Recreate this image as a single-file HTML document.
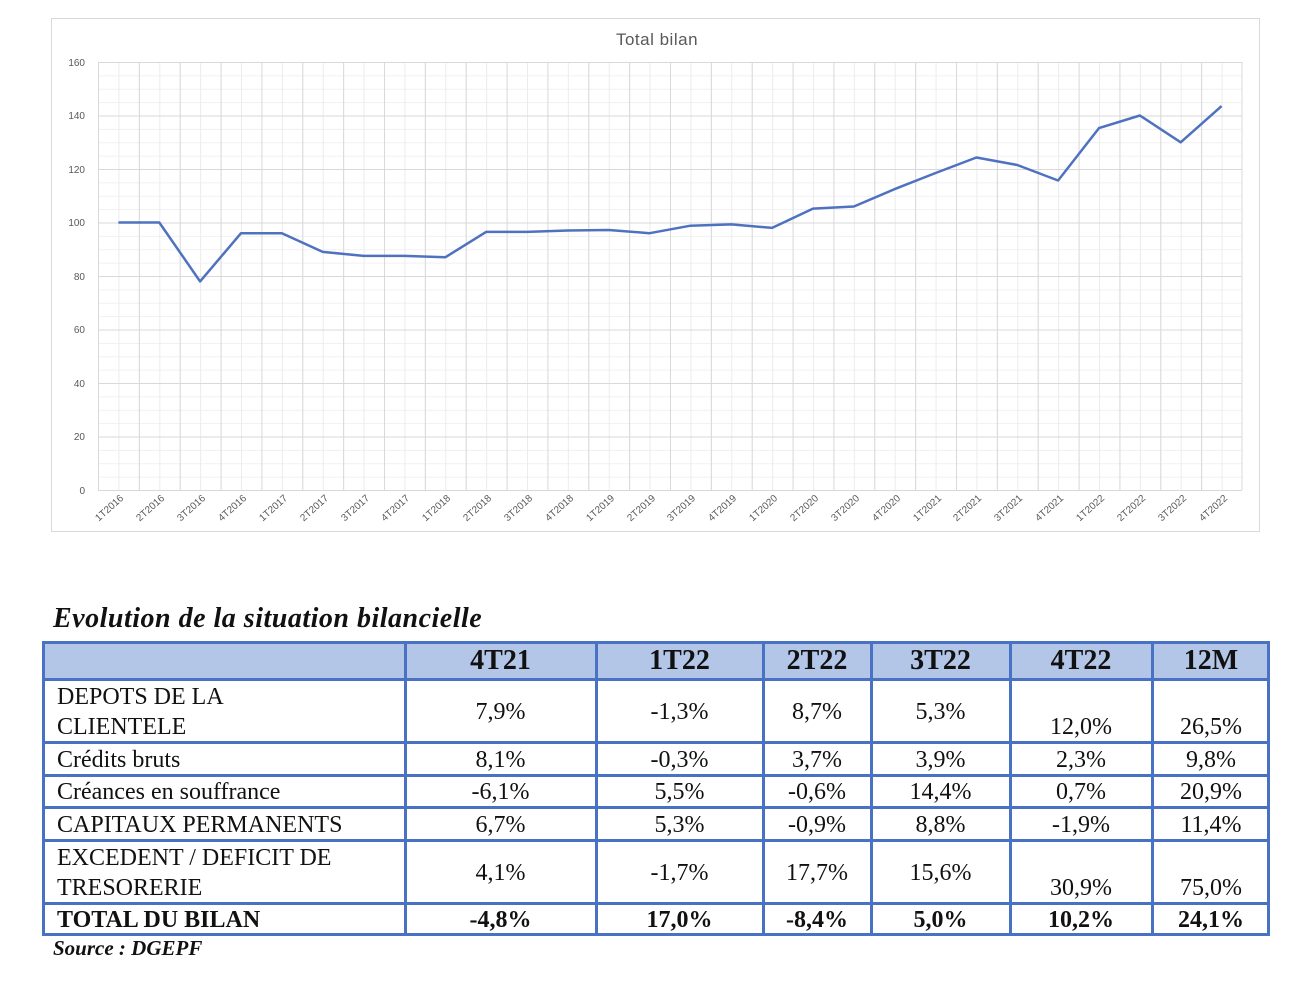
<!DOCTYPE html>
<html><head><meta charset="utf-8"><style>
body{margin:0;width:1302px;height:982px;background:#fff;position:relative;overflow:hidden;font-family:"Liberation Serif",serif}
.c{position:absolute;box-sizing:border-box;font-size:24px;color:#111;display:flex;align-items:center;justify-content:center;line-height:30px}
.l{justify-content:flex-start;padding-left:14px}
.h{font-weight:bold;font-size:28px}
.b{font-weight:bold}
</style></head><body>
<svg width="1302" height="545" style="position:absolute;left:0;top:0" font-family="Liberation Sans, sans-serif">
<defs>
<pattern id="hm" x="98" y="62" width="1144" height="13.375" patternUnits="userSpaceOnUse"><line x1="0" y1="0.5" x2="1144" y2="0.5" stroke="#f0f0f0" stroke-width="1"/></pattern>
<pattern id="vm" x="98" y="62" width="20.4286" height="428" patternUnits="userSpaceOnUse"><line x1="0.5" y1="0" x2="0.5" y2="428" stroke="#ececec" stroke-width="1"/></pattern>
<pattern id="vM" x="98" y="62" width="40.857" height="428" patternUnits="userSpaceOnUse"><line x1="0.5" y1="0" x2="0.5" y2="428" stroke="#d9d9d9" stroke-width="1"/></pattern>
<pattern id="hM" x="98" y="62" width="1144" height="53.5" patternUnits="userSpaceOnUse"><line x1="0" y1="0.5" x2="1144" y2="0.5" stroke="#d9d9d9" stroke-width="1"/></pattern>
</defs>
<rect x="51.5" y="18.5" width="1208" height="513" fill="#fff" stroke="#d9d9d9"/>
<text x="657" y="45" font-size="17" fill="#595959" text-anchor="middle" letter-spacing="0.5">Total bilan</text>
<rect x="98" y="62" width="1144" height="428" fill="url(#hm)"/>
<rect x="98" y="62" width="1144" height="428" fill="url(#vm)"/>
<rect x="98" y="62" width="1144" height="428" fill="url(#vM)"/>
<rect x="98" y="62" width="1144" height="428" fill="url(#hM)"/>
<line x1="1242" y1="62" x2="1242" y2="490" stroke="#d9d9d9"/>
<line x1="98" y1="490.5" x2="1242" y2="490.5" stroke="#d9d9d9"/>
<g font-size="10" fill="#595959" text-anchor="end">
<text x="85" y="494">0</text><text x="85" y="440">20</text><text x="85" y="387">40</text><text x="85" y="333">60</text><text x="85" y="280">80</text><text x="85" y="226">100</text><text x="85" y="173">120</text><text x="85" y="119">140</text><text x="85" y="66">160</text>
</g>
<g font-size="10" fill="#595959" text-anchor="end">
<text transform="translate(124,499) rotate(-42)">1T2016</text>
<text transform="translate(165,499) rotate(-42)">2T2016</text>
<text transform="translate(206,499) rotate(-42)">3T2016</text>
<text transform="translate(247,499) rotate(-42)">4T2016</text>
<text transform="translate(288,499) rotate(-42)">1T2017</text>
<text transform="translate(329,499) rotate(-42)">2T2017</text>
<text transform="translate(370,499) rotate(-42)">3T2017</text>
<text transform="translate(410,499) rotate(-42)">4T2017</text>
<text transform="translate(451,499) rotate(-42)">1T2018</text>
<text transform="translate(492,499) rotate(-42)">2T2018</text>
<text transform="translate(533,499) rotate(-42)">3T2018</text>
<text transform="translate(574,499) rotate(-42)">4T2018</text>
<text transform="translate(615,499) rotate(-42)">1T2019</text>
<text transform="translate(656,499) rotate(-42)">2T2019</text>
<text transform="translate(696,499) rotate(-42)">3T2019</text>
<text transform="translate(737,499) rotate(-42)">4T2019</text>
<text transform="translate(778,499) rotate(-42)">1T2020</text>
<text transform="translate(819,499) rotate(-42)">2T2020</text>
<text transform="translate(860,499) rotate(-42)">3T2020</text>
<text transform="translate(901,499) rotate(-42)">4T2020</text>
<text transform="translate(942,499) rotate(-42)">1T2021</text>
<text transform="translate(982,499) rotate(-42)">2T2021</text>
<text transform="translate(1023,499) rotate(-42)">3T2021</text>
<text transform="translate(1064,499) rotate(-42)">4T2021</text>
<text transform="translate(1105,499) rotate(-42)">1T2022</text>
<text transform="translate(1146,499) rotate(-42)">2T2022</text>
<text transform="translate(1187,499) rotate(-42)">3T2022</text>
<text transform="translate(1228,499) rotate(-42)">4T2022</text>
</g>
<polyline fill="none" stroke="#4f72c0" stroke-width="2.5" stroke-linejoin="round" points="118.4,222.5 159.3,222.5 200.1,281.4 241,233.2 281.9,233.2 322.7,251.9 363.6,255.9 404.4,255.9 445.3,257.3 486.1,231.9 527,231.9 567.9,230.5 608.7,230 649.6,233.2 690.4,225.7 731.3,224.4 772.1,227.9 813,208.6 853.9,206.5 894.7,189.1 935.6,173 976.4,157.5 1017.3,165 1058.1,180.5 1099,128.1 1139.9,115.5 1180.7,142.3 1221.6,106.1"/>
</svg>
<div style="position:absolute;left:53px;top:603px;font-size:28px;letter-spacing:0.5px;font-weight:bold;font-style:italic;color:#111">Evolution de la situation bilancielle</div>
<div style="position:absolute;left:42px;top:641px;width:1228px;height:38px;background:#b4c6e7"></div>
<svg width="1302" height="982" style="position:absolute;left:0;top:0">
<g stroke="#4a72c4" stroke-width="3" fill="none">
<rect x="43.5" y="642.5" width="1225" height="292"/>
<line x1="43" y1="679.5" x2="1270" y2="679.5"/><line x1="43" y1="742.5" x2="1270" y2="742.5"/><line x1="43" y1="775.5" x2="1270" y2="775.5"/><line x1="43" y1="807.5" x2="1270" y2="807.5"/><line x1="43" y1="840.5" x2="1270" y2="840.5"/><line x1="43" y1="903.5" x2="1270" y2="903.5"/>
<line x1="405.5" y1="642" x2="405.5" y2="936"/><line x1="596.5" y1="642" x2="596.5" y2="936"/><line x1="763.5" y1="642" x2="763.5" y2="936"/><line x1="871.5" y1="642" x2="871.5" y2="936"/><line x1="1010.5" y1="642" x2="1010.5" y2="936"/><line x1="1152.5" y1="642" x2="1152.5" y2="936"/>
</g></svg>
<div class="c h" style="left:405px;top:641px;width:191px;height:39px">4T21</div>
<div class="c h" style="left:596px;top:641px;width:167px;height:39px">1T22</div>
<div class="c h" style="left:763px;top:641px;width:108px;height:39px">2T22</div>
<div class="c h" style="left:871px;top:641px;width:139px;height:39px">3T22</div>
<div class="c h" style="left:1010px;top:641px;width:142px;height:39px">4T22</div>
<div class="c h" style="left:1152px;top:641px;width:118px;height:39px">12M</div>

<div class="c l" style="left:43px;top:680px;width:362px;height:63px">DEPOTS DE LA<br>CLIENTELE</div>
<div class="c" style="left:405px;top:680px;width:191px;height:63px">7,9%</div>
<div class="c" style="left:596px;top:680px;width:167px;height:63px">-1,3%</div>
<div class="c" style="left:763px;top:680px;width:108px;height:63px">8,7%</div>
<div class="c" style="left:871px;top:680px;width:139px;height:63px">5,3%</div>
<div class="c" style="left:1010px;top:711px;width:142px;height:31px">12,0%</div>
<div class="c" style="left:1152px;top:711px;width:118px;height:31px">26,5%</div>

<div class="c l" style="left:43px;top:743px;width:362px;height:33px">Crédits bruts</div>
<div class="c" style="left:405px;top:743px;width:191px;height:33px">8,1%</div>
<div class="c" style="left:596px;top:743px;width:167px;height:33px">-0,3%</div>
<div class="c" style="left:763px;top:743px;width:108px;height:33px">3,7%</div>
<div class="c" style="left:871px;top:743px;width:139px;height:33px">3,9%</div>
<div class="c" style="left:1010px;top:743px;width:142px;height:33px">2,3%</div>
<div class="c" style="left:1152px;top:743px;width:118px;height:33px">9,8%</div>

<div class="c l" style="left:43px;top:776px;width:362px;height:32px">Créances en souffrance</div>
<div class="c" style="left:405px;top:776px;width:191px;height:32px">-6,1%</div>
<div class="c" style="left:596px;top:776px;width:167px;height:32px">5,5%</div>
<div class="c" style="left:763px;top:776px;width:108px;height:32px">-0,6%</div>
<div class="c" style="left:871px;top:776px;width:139px;height:32px">14,4%</div>
<div class="c" style="left:1010px;top:776px;width:142px;height:32px">0,7%</div>
<div class="c" style="left:1152px;top:776px;width:118px;height:32px">20,9%</div>

<div class="c l" style="left:43px;top:808px;width:362px;height:33px">CAPITAUX PERMANENTS</div>
<div class="c" style="left:405px;top:808px;width:191px;height:33px">6,7%</div>
<div class="c" style="left:596px;top:808px;width:167px;height:33px">5,3%</div>
<div class="c" style="left:763px;top:808px;width:108px;height:33px">-0,9%</div>
<div class="c" style="left:871px;top:808px;width:139px;height:33px">8,8%</div>
<div class="c" style="left:1010px;top:808px;width:142px;height:33px">-1,9%</div>
<div class="c" style="left:1152px;top:808px;width:118px;height:33px">11,4%</div>

<div class="c l" style="left:43px;top:841px;width:362px;height:63px">EXCEDENT / DEFICIT DE<br>TRESORERIE</div>
<div class="c" style="left:405px;top:841px;width:191px;height:63px">4,1%</div>
<div class="c" style="left:596px;top:841px;width:167px;height:63px">-1,7%</div>
<div class="c" style="left:763px;top:841px;width:108px;height:63px">17,7%</div>
<div class="c" style="left:871px;top:841px;width:139px;height:63px">15,6%</div>
<div class="c" style="left:1010px;top:872px;width:142px;height:31px">30,9%</div>
<div class="c" style="left:1152px;top:872px;width:118px;height:31px">75,0%</div>

<div class="c l b" style="left:43px;top:904px;width:362px;height:32px">TOTAL DU BILAN</div>
<div class="c b" style="left:405px;top:904px;width:191px;height:32px">-4,8%</div>
<div class="c b" style="left:596px;top:904px;width:167px;height:32px">17,0%</div>
<div class="c b" style="left:763px;top:904px;width:108px;height:32px">-8,4%</div>
<div class="c b" style="left:871px;top:904px;width:139px;height:32px">5,0%</div>
<div class="c b" style="left:1010px;top:904px;width:142px;height:32px">10,2%</div>
<div class="c b" style="left:1152px;top:904px;width:118px;height:32px">24,1%</div>
<div style="position:absolute;left:53px;top:936px;font-size:21px;font-weight:bold;font-style:italic;color:#111">Source : DGEPF</div>
</body></html>
